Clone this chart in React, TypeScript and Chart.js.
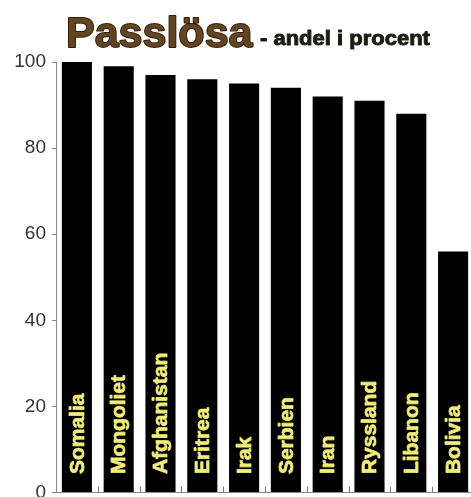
import React, { useEffect, useRef } from "react";
import { Chart, registerables } from "chart.js";

Chart.register(...registerables);

const categories = ["Somalia", "Mongoliet", "Afghanistan", "Eritrea", "Irak", "Serbien", "Iran", "Ryssland", "Libanon", "Bolivia"];
const values = [100, 99, 97, 96, 95, 94, 92, 91, 88, 56];
const yTicks = [0, 20, 40, 60, 80, 100];
const titleMain = "Passlösa";
const titleSub = "- andel i procent";

const titlePlugin = {
  id: "titlePlugin",
  afterDraw(chart: any) {
    const ctx = chart.ctx;
    ctx.save();
    ctx.textBaseline = "alphabetic";
    ctx.textAlign = "left";
    // main title
    ctx.save();
    ctx.translate(66, 47);
    ctx.font = "bold 43px 'Liberation Sans', Arial, sans-serif";
    ctx.lineWidth = 1.8;
    ctx.lineJoin = "round";
    ctx.strokeStyle = "#2e1d0a";
    ctx.fillStyle = "#634421";
    ctx.strokeText(titleMain, 0, 0);
    ctx.fillText(titleMain, 0, 0);
    ctx.restore();
    // subtitle
    ctx.save();
    ctx.translate(260, 45);
    ctx.scale(1.1, 1);
    ctx.font = "bold 20px 'Liberation Sans', Arial, sans-serif";
    ctx.fillStyle = "#1e1a14";
    ctx.strokeStyle = "#1e1a14";
    ctx.lineWidth = 0.9;
    ctx.lineJoin = "round";
    ctx.strokeText(titleSub, 0, 0);
    ctx.fillText(titleSub, 0, 0);
    ctx.restore();
    ctx.restore();
  },
};

const barLabelPlugin = {
  id: "barLabelPlugin",
  afterDatasetsDraw(chart: any) {
    const ctx = chart.ctx;
    const meta = chart.getDatasetMeta(0);
    const xScale = chart.scales.x;
    const yScale = chart.scales.y;
    ctx.save();
    // bar labels
    meta.data.forEach((bar: any, i: number) => {
      ctx.save();
      ctx.translate(bar.x, bar.base - 18);
      ctx.rotate(-Math.PI / 2);
      ctx.font = "bold 21px 'Liberation Sans', Arial, sans-serif";
      ctx.fillStyle = "#f1ed78";
      ctx.strokeStyle = "#f1ed78";
      ctx.lineWidth = 0.7;
      ctx.lineJoin = "round";
      ctx.textAlign = "left";
      ctx.textBaseline = "middle";
      ctx.strokeText(categories[i], 0, 1);
      ctx.fillText(categories[i], 0, 1);
      ctx.restore();
    });
    // inward ticks at category boundaries
    ctx.strokeStyle = "#777";
    ctx.lineWidth = 1;
    const bottom = yScale.getPixelForValue(0);
    for (let i = 0; i < categories.length - 1; i++) {
      const x = Math.round((xScale.getPixelForValue(i) + xScale.getPixelForValue(i + 1)) / 2) + 0.5;
      ctx.beginPath();
      ctx.moveTo(x, bottom);
      ctx.lineTo(x, bottom - 6);
      ctx.stroke();
    }
    ctx.restore();
  },
};

export default function App() {
  const ref = useRef<HTMLCanvasElement>(null);
  useEffect(() => {
    if (!ref.current) return;
    const chart = new Chart(ref.current, {
      type: "bar",
      data: {
        labels: categories,
        datasets: [
          {
            data: values,
            backgroundColor: "#000000",
            borderWidth: 0,
            barPercentage: 0.72,
            categoryPercentage: 1,
          },
        ],
      },
      options: {
        responsive: false,
        animation: false,
        layout: { padding: { top: 62, right: 6, left: 0, bottom: 0 } },
        plugins: { legend: { display: false }, tooltip: { enabled: false }, title: { display: false } },
        scales: {
          x: {
            grid: { display: false },
            border: { display: true, color: "#888", width: 1 },
            ticks: { display: false },
            afterFit(scale: any) {
              scale.height = 15;
            },
          },
          y: {
            min: 0,
            max: 100,
            afterBuildTicks(scale: any) {
              scale.ticks = yTicks.map((v) => ({ value: v }));
            },
            grid: { drawOnChartArea: false, drawTicks: true, tickLength: 4, color: "#888" },
            border: { display: true, color: "#888", width: 1 },
            ticks: {
              color: "#333",
              font: { family: "'Liberation Sans', Arial, sans-serif", size: 19 },
              padding: 6,
            },
            afterFit(scale: any) {
              scale.width = 56;
            },
          },
        },
      },
      plugins: [titlePlugin, barLabelPlugin],
    });
    return () => chart.destroy();
  }, []);
  return (
    <div style={{ position: "fixed", top: 0, left: 0, width: 471, height: 497, overflow: "hidden", background: "#fff" }}>
      <canvas ref={ref} width={480} height={510} style={{ display: "block" }} />
    </div>
  );
}
